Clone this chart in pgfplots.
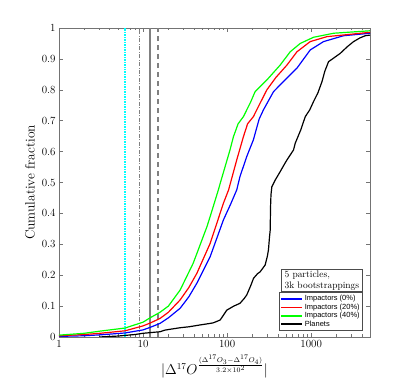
\documentclass[border=0pt]{standalone}
\usepackage{fontspec}
\newfontfamily\helv{Liberation Sans}
\usepackage{pgfplots}
\pgfplotsset{compat=1.18}
\definecolor{refcyan}{rgb}{0,1,1}
\definecolor{refgray}{rgb}{0.5,0.5,0.5}

\begin{document}
\begin{tikzpicture}
\path (-59bp,-43bp) rectangle (356bp,337bp);
\begin{axis}[
  at={(0,0)}, anchor=south west,
  scale only axis, width=311bp, height=309bp,
  xmode=log, xmin=1, xmax=5000, ymin=0, ymax=1,
  xtick={1,10,100,1000}, xticklabels={1,10,100,1000},
  minor xtick={2,3,4,5,6,7,8,9,20,30,40,50,60,70,80,90,200,300,400,500,600,700,800,900,2000,3000,4000},
  ytick={0,0.1,0.2,0.3,0.4,0.5,0.6,0.7,0.8,0.9,1},
  yticklabels={0,0.1,0.2,0.3,0.4,0.5,0.6,0.7,0.8,0.9,1},
  tick align=inside,
  major tick length=4bp, minor tick length=2.5bp,
  axis line style={black!55},
  every tick/.style={black!55},
  tick label style={font=\fontsize{11}{13}\selectfont},
  label style={font=\fontsize{13.5}{15}\selectfont},
  xlabel={$|\Delta^{17}O^{\frac{(\Delta^{17}O_3-\Delta^{17}O_4)}{3.2\times10^2}}|$},
  ylabel={Cumulative fraction},
  legend cell align=left,
  legend style={at={(rel axis cs:0.977,0.02)}, anchor=south east,
    font=\fontsize{7.5}{8}\helv, draw=black!70, inner sep=1pt, row sep=-2.5pt},
  legend image code/.code={\draw[#1, line width=1.5pt] (0bp,0bp) -- (21bp,0bp);},
]
% reference lines
\addplot[draw=refcyan, line width=1.5pt, dash pattern=on 1.5pt off 1pt, forget plot] coordinates {(6.1,0) (6.1,1)};
\addplot[draw=refgray, line width=1.4pt, dash pattern=on 4pt off 1.5pt on 1pt off 1.5pt, forget plot] coordinates {(9.1,0) (9.1,1)};
\addplot[draw=refgray, line width=1.4pt, forget plot] coordinates {(12.1,0) (12.1,1)};
\addplot[draw=refgray, line width=1.4pt, dash pattern=on 5pt off 4pt, forget plot] coordinates {(15.1,0) (15.1,1)};

\addplot[blue, line width=1.2pt] coordinates {
(1,0.002) (2,0.004) (3.08,0.007) (6.1,0.013) (10,0.023) (12.1,0.031) (15.9,0.044)
(20,0.062) (27.6,0.093) (35,0.13) (43.6,0.174) (62.8,0.26) (90.3,0.379) (110,0.43)
(130,0.476) (142,0.519) (171,0.584) (205,0.638) (240,0.705) (270,0.735) (356,0.794)
(500,0.835) (676,0.87) (973,0.929) (1402,0.956) (2425,0.975) (5000,0.983)};
\addlegendentry{Impactors (0\%)}
\addplot[red, line width=1.2pt] coordinates {
(1,0.004) (2,0.008) (3.08,0.012) (6.1,0.02) (10,0.036) (12.1,0.045) (15.9,0.06)
(20,0.08) (27.6,0.12) (35,0.16) (43.6,0.206) (62.8,0.303) (90.3,0.433) (104,0.476)
(130,0.573) (156,0.648) (175,0.69) (205,0.713) (250,0.76) (297,0.80) (380,0.84)
(514,0.880) (676,0.923) (973,0.956) (1537,0.972) (5000,0.986)};
\addlegendentry{Impactors (20\%)}
\addplot[green, line width=1.2pt] coordinates {
(1,0.006) (2,0.012) (3.08,0.019) (6.1,0.029) (10,0.048) (12.1,0.062) (15.9,0.08)
(20,0.1) (27.6,0.152) (39.5,0.239) (57.5,0.357) (62.8,0.39) (78.6,0.476) (82.6,0.497)
(108,0.605) (118.7,0.648) (135,0.69) (156,0.713) (190,0.76) (215,0.794) (297,0.832)
(427,0.880) (562,0.923) (740,0.950) (1065,0.970) (1845,0.983) (5000,0.991)};
\addlegendentry{Impactors (40\%)}
\addplot[black, line width=1.2pt] coordinates {
(3,0) (5,0.003) (8,0.008) (10,0.012) (12,0.014) (15.9,0.017) (18,0.022) (21,0.025)
(27.6,0.03) (35,0.033) (47.6,0.039) (62.8,0.044) (68.7,0.046) (82.6,0.055) (90,0.07)
(99,0.087) (120,0.1) (142,0.109) (160,0.125) (171,0.136) (190,0.165) (206,0.19)
(230,0.205) (247,0.211) (283,0.233) (300,0.26) (310,0.282) (318,0.32) (325,0.346)
(328,0.42) (332,0.46) (340,0.486) (373,0.508) (427,0.535) (470,0.555) (514,0.573)
(615,0.605) (645,0.627) (750,0.67) (849,0.713) (960,0.735) (1065,0.762) (1200,0.79)
(1341,0.826) (1450,0.86) (1607,0.891) (1900,0.905) (2214,0.918) (2700,0.94)
(3190,0.956) (3800,0.968) (4395,0.975) (5000,0.977)};
\addlegendentry{Planets}

\node[draw=black!70, fill=white, anchor=south east, align=left,
  font=\fontsize{9.5}{11}\selectfont, inner xsep=3.5pt, inner ysep=1.5pt]
  at (rel axis cs:0.977,0.146) {5 particles,\\3k bootstrappings};
\end{axis}
\end{tikzpicture}
\end{document}
